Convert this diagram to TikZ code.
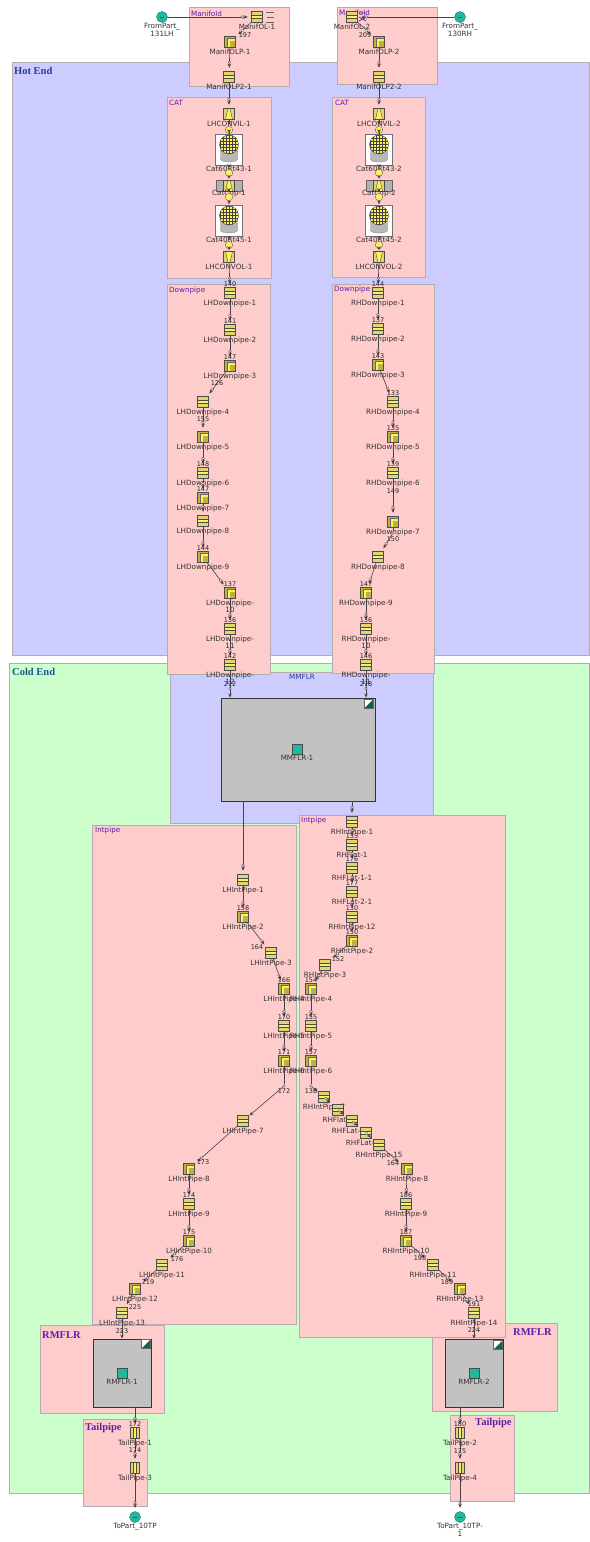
\documentclass[tikz,border=0pt]{standalone}
\usepackage{xcolor}
\usepackage{fontspec}
\setmainfont{DejaVu Sans}
\newfontfamily\zonefont{Liberation Serif}
\usetikzlibrary{arrows.meta,decorations.markings,positioning}
\definecolor{hotfill}{HTML}{CCCCFF}
\definecolor{coldfill}{HTML}{CCFFCC}
\definecolor{groupfill}{HTML}{FFCCCC}
\definecolor{edgegrey}{HTML}{B4ACB0}
\definecolor{iconyellow}{HTML}{E0D478}
\definecolor{bendyellow}{HTML}{C0B040}
\definecolor{bandyellow}{HTML}{FFF060}
\definecolor{portteal}{HTML}{20B8A0}
\definecolor{titlepurple}{HTML}{5A20A8}
\definecolor{titleblue}{HTML}{2A3A9C}
\definecolor{linegrey}{HTML}{4A4048}
\tikzset{
  zone/.style={draw=edgegrey,line width=0.8pt},
  smalltitle/.style={font=\fontsize{7.2}{8}\selectfont,text=titlepurple,inner sep=0pt},
  bigtitle/.style={font=\zonefont\bfseries\fontsize{10.5}{12}\selectfont,text=titlepurple,inner sep=0pt},
  parttext/.style={font=\fontsize{7.2}{7.5}\selectfont,text=black!80,inner sep=0pt,align=center},
  numtext/.style={font=\fontsize{6.5}{7}\selectfont,text=black!85,inner sep=0pt},
  partbox/.style={rectangle,draw=black!70,line width=0.5pt,inner sep=0pt,minimum width=11pt,minimum height=11pt},
  pipebox/.style={partbox,fill=iconyellow,path picture={
    \begin{scope}[shift={(path picture bounding box.center)}]
      \fill[bandyellow] (-5.5,-1.5) rectangle (5.5,1.5);
      \draw[black!70,line width=0.4pt] (-5.5,-1.5)--(5.5,-1.5) (-5.5,1.5)--(5.5,1.5);
    \end{scope}}},
  bendbox/.style={partbox,fill=bendyellow,path picture={
    \begin{scope}[shift={(path picture bounding box.center)}]
      \draw[bandyellow,line width=1.2pt] (5.5,-2)--(-1,-2)--(-1,5.5);
      \draw[black!60,line width=0.3pt] (5.5,-3.5)--(-3,-3.5)--(-3,5.5);
    \end{scope}}},
  tailbox/.style={partbox,minimum width=9pt,fill=iconyellow,path picture={
    \begin{scope}[shift={(path picture bounding box.center)}]
      \fill[bandyellow] (-1.5,-5.5) rectangle (1.5,5.5);
      \draw[black!70,line width=0.4pt] (-1.5,-5.5)--(-1.5,5.5) (1.5,-5.5)--(1.5,5.5);
    \end{scope}}},
  coneinbox/.style={partbox,fill=iconyellow,path picture={
    \begin{scope}[shift={(path picture bounding box.center)}]
      \draw[black!70,fill=bandyellow,line width=0.4pt] (-3.5,5.5)--(-1,-5.5)--(1,-5.5)--(3.5,5.5);
    \end{scope}}},
  coneoutbox/.style={partbox,fill=iconyellow,path picture={
    \begin{scope}[shift={(path picture bounding box.center)}]
      \draw[black!70,fill=bandyellow,line width=0.4pt] (-3.5,-5.5)--(-1,5.5)--(1,5.5)--(3.5,-5.5);
    \end{scope}}},
  catbox/.style={rectangle,draw=black!55,fill=white,line width=0.4pt,inner sep=0pt,minimum width=27pt,minimum height=31pt},
  capbox/.style={rectangle,draw=black!60,fill=black!30,line width=0.4pt,inner sep=0pt,minimum width=26pt,minimum height=11pt},
  capdot/.style={circle,draw=black!60,fill=bandyellow,line width=0.4pt,inner sep=0pt,minimum size=7.5pt},
  flrbox/.style={rectangle,draw=black!80,fill=black!24,line width=0.9pt,inner sep=0pt},
  flricon/.style={rectangle,draw=black!70,fill=portteal,line width=0.5pt,inner sep=0pt,minimum size=10pt},
  cornericon/.style={rectangle,draw=black!60,fill=white,line width=0.4pt,inner sep=0pt,minimum size=9pt,path picture={
    \fill[black!25!portteal!70!black] (path picture bounding box.south west) -- (path picture bounding box.north east) -- (path picture bounding box.south east) -- cycle;}},
  portdot/.style={circle,draw=portteal!70!black,fill=portteal,line width=0.4pt,inner sep=0pt,minimum size=11pt},
  opendot/.style={circle,draw=linegrey,fill=white,line width=0.35pt,inner sep=0pt,minimum size=2.8pt},
  pipeline/.style={draw=linegrey,line width=0.6pt,shorten >=3.5pt,-{Stealth[length=4pt,width=3.5pt]},
    decoration={markings,mark=at position -9pt with {\draw[linegrey,fill=white,line width=0.35pt] (0,0) circle (1.3pt);}},
    postaction={decorate}},
  plainline/.style={draw=linegrey,line width=0.6pt,shorten >=1pt,-{Stealth[length=4pt,width=3.5pt]}}
}
\begin{document}
\begin{tikzpicture}[x=1pt,y=-1pt]
  \useasboundingbox (0,0) rectangle (589,1542);
  \fill[white] (0,0) rectangle (589,1542);
  \draw[zone,fill=hotfill] (12,62) rectangle (589,655);
  \draw[zone,fill=coldfill] (9,663) rectangle (589,1493);
  \draw[zone,fill=hotfill] (170,672) rectangle (433,823);
  \foreach \xa/\ya/\xb/\yb in {189/7/289/86,337/7/437/84,167/97/271/278,332/97/425/277,
    167/284/270/674,332/284/434/673,40/1325/164/1413,432/1323/557/1411,
    92/825/296/1324,299/815/505/1337,83/1419/147/1506,450/1415/514/1501}
    \draw[zone,fill=groupfill] (\xa,\ya) rectangle (\xb,\yb);
  \node[bigtitle,text=titleblue,anchor=west] (HotTitle) at (14,71) {Hot End};
  \node[bigtitle,text=titleblue!60!teal,anchor=west] (ColdTitle) at (12,672) {Cold End};
  \node[bigtitle,anchor=west] (RmflrTitleL) at (42,1335) {RMFLR};
  \node[bigtitle,anchor=west] (RmflrTitleR) at (513,1332) {RMFLR};
  \node[bigtitle,anchor=west] (TailTitleL) at (85,1428) {Tailpipe};
  \node[bigtitle,anchor=west] (TailTitleR) at (475,1423) {Tailpipe};
  \foreach \name/\x/\y/\txt in {ManTitleL/191/14/Manifold,ManTitleR/339/13/Manifold,
    CatTitleL/169/103/CAT,CatTitleR/335/103/CAT,DownTitleL/169/291/Downpipe,DownTitleR/334/290/Downpipe,
    IntTitleL/95/831/Intpipe,IntTitleR/301/821/Intpipe}
    \node[smalltitle,anchor=west] (\name) at (\x,\y) {\txt};
  \node[smalltitle,text=titleblue] (MmflrTitle) at (302,677) {MMFLR};
  \foreach \name/\x/\y/\kind/\txt in {
    ManOLA/257/17/pipebox/ManifOL-1,ManLPA/230/42/bendbox/ManifOLP-1,ManLTA/229/77/pipebox/ManifOLP2-1,
    ManOLB/352/17/pipebox/ManifOL-2,ManLPB/379/42/bendbox/ManifOLP-2,ManLTB/379/77/pipebox/ManifOLP2-2,
    ConvInA/229/114/coneinbox/LHCONVIL-1,ConvOutA/229/257/coneoutbox/LHCONVOL-1,
    ConvInB/379/114/coneinbox/LHCONVIL-2,ConvOutB/379/257/coneoutbox/LHCONVOL-2,
    LHDownA/230/293/pipebox/LHDownpipe-1,LHDownB/230/330/pipebox/LHDownpipe-2,LHDownC/230/366/bendbox/LHDownpipe-3,
    LHDownD/203/402/pipebox/LHDownpipe-4,LHDownE/203/437/bendbox/LHDownpipe-5,LHDownF/203/473/pipebox/LHDownpipe-6,
    LHDownG/203/498/bendbox/LHDownpipe-7,LHDownH/203/521/pipebox/LHDownpipe-8,LHDownI/203/557/bendbox/LHDownpipe-9,
    LHDownJ/230/593/bendbox/{LHDownpipe-\\10},LHDownK/230/629/pipebox/{LHDownpipe-\\11},LHDownL/230/665/pipebox/{LHDownpipe-\\12},
    RHDownA/378/293/pipebox/RHDownpipe-1,RHDownB/378/329/pipebox/RHDownpipe-2,RHDownC/378/365/bendbox/RHDownpipe-3,
    RHDownD/393/402/pipebox/RHDownpipe-4,RHDownE/393/437/bendbox/RHDownpipe-5,RHDownF/393/473/pipebox/RHDownpipe-6,
    RHDownG/393/522/bendbox/RHDownpipe-7,RHDownH/378/557/pipebox/RHDownpipe-8,RHDownI/366/593/bendbox/RHDownpipe-9,
    RHDownJ/366/629/pipebox/{RHDownpipe-\\10},RHDownK/366/665/pipebox/{RHDownpipe-\\11},
    LHIntA/243/880/pipebox/LHIntPipe-1,LHIntB/243/917/bendbox/LHIntPipe-2,LHIntC/271/953/pipebox/LHIntPipe-3,
    LHIntD/284/989/bendbox/LHIntPipe-4,LHIntE/284/1026/pipebox/LHIntPipe-5,LHIntF/284/1061/bendbox/LHIntPipe-6,
    LHIntG/243/1121/pipebox/LHIntPipe-7,LHIntH/189/1169/bendbox/LHIntPipe-8,LHIntI/189/1204/pipebox/LHIntPipe-9,
    LHIntJ/189/1241/bendbox/LHIntPipe-10,LHIntK/162/1265/pipebox/LHIntPipe-11,LHIntL/135/1289/bendbox/LHIntPipe-12,
    LHIntM/122/1313/pipebox/LHIntPipe-13,
    RHIntA/352/822/pipebox/RHIntPipe-1,RHFlatA/352/845/pipebox/RHFlat-1,RHFlatB/352/868/pipebox/RHFLat-1-1,
    RHFlatC/352/892/pipebox/RHFLat-2-1,RHIntL/352/917/pipebox/RHIntPipe-12,RHIntB/352/941/bendbox/RHIntPipe-2,
    RHIntC/325/965/pipebox/RHIntPipe-3,RHIntD/311/989/bendbox/RHIntPipe-4,RHIntE/311/1026/pipebox/RHIntPipe-5,
    RHIntF/311/1061/bendbox/RHIntPipe-6,RHIntG/324/1097/pipebox/RHIntPipe-7,RHFlatD/338/1110/pipebox/RHFlat-3,
    RHFlatE/352/1121/pipebox/RHFLat-3-1,RHFlatF/366/1133/pipebox/RHFLat-4-1,RHIntO/379/1145/pipebox/RHIntPipe-15,
    RHIntH/407/1169/bendbox/RHIntPipe-8,RHIntI/406/1204/pipebox/RHIntPipe-9,RHIntJ/406/1241/bendbox/RHIntPipe-10,
    RHIntK/433/1265/pipebox/RHIntPipe-11,RHIntM/460/1289/bendbox/RHIntPipe-13,RHIntN/474/1313/pipebox/RHIntPipe-14,
    TailA/135/1433/tailbox/TailPipe-1,TailC/135/1468/tailbox/TailPipe-3,
    TailB/460/1433/tailbox/TailPipe-2,TailD/460/1468/tailbox/TailPipe-4}
  {
    \node[\kind] (\name) at (\x,\y) {};
    \node[parttext,below=0.8pt of \name] (\name-text) {\txt};
  }
  \foreach \name/\x/\y/\txt in {CatFrontA/229/150/Cat60Rt43-1,CatBackA/229/221/Cat40Rt45-1,
    CatFrontB/379/150/Cat60Rt43-2,CatBackB/379/221/Cat40Rt45-2}
  {
    \node[catbox] (\name) at (\x,\y) {};
    \begin{scope}[shift={(\name.center)}]
      \draw[black!50,fill=black!28,line width=0.3pt] (-8.5,-4) -- (-8.5,9) .. controls (-8.5,13) and (8.5,13) .. (8.5,9) -- (8.5,-4) -- cycle;
      \begin{scope}
        \clip (0,-5.5) circle (9.5);
        \fill[bandyellow] (-10,-16) rectangle (10,5);
        \foreach \g in {-9,-6,-3,0,3,6,9} \draw[black!75,line width=0.4pt] (\g,-16) -- (\g,5) (-10,\g-5.5) -- (10,\g-5.5);
      \end{scope}
      \draw[black!70,line width=0.4pt] (0,-5.5) circle (9.5);
    \end{scope}
    \node[parttext,below=0pt of \name] (\name-text) {\txt};
  }
  \foreach \name/\x/\txt in {CapA/229/CatCnp-1,CapB/379/CatCnp-2}
  {
    \node[capbox] (\name) at (\x,185.5) {};
    \node[coneinbox] (\name-core) at (\name.center) {};
    \node[parttext,below=-1pt of \name] (\name-text) {\txt};
  }
  \foreach \name/\x/\y in {DotAa/229/130,DotAb/229/173,DotAc/229/197,DotAd/229/245,
    DotBa/379/130,DotBb/379/173,DotBc/379/197,DotBd/379/245}
    \node[capdot] (\name) at (\x,\y) {};
  \draw[black!60,line width=0.6pt] (266,12)--(274,12) (267,17)--(274,17) (266,22)--(274,22);
  \draw[titlepurple,line width=0.7pt] (359,13)--(366,13) (359,17)--(366,21) (359,21)--(366,17);
  \node[flrbox,minimum width=154pt,minimum height=103pt] (MmflrBox) at (298,749.5) {};
  \node[flricon] (MmflrIcon) at (297,749) {};
  \node[parttext,below=1pt of MmflrIcon] (MmflrText) {MMFLR-1};
  \node[cornericon] (MmflrCorner) at (368.5,704) {};
  \node[flrbox,minimum width=58pt,minimum height=68pt] (RmflrBoxL) at (122,1373) {};
  \node[flricon] (RmflrIconL) at (122,1373) {};
  \node[parttext,below=1pt of RmflrIconL] (RmflrTextL) {RMFLR-1};
  \node[cornericon] (RmflrCornerL) at (146,1344) {};
  \node[flrbox,minimum width=58pt,minimum height=68pt] (RmflrBoxR) at (474.5,1373) {};
  \node[flricon] (RmflrIconR) at (474,1373) {};
  \node[parttext,below=1pt of RmflrIconR] (RmflrTextR) {RMFLR-2};
  \node[cornericon] (RmflrCornerR) at (498,1345) {};
  \foreach \name/\x/\y/\txt in {FromLH/162/17/{FromPart\_\\131LH},FromRH/460/17/{FromPart\_\\130RH},
    ToLH/135/1517/ToPart\_10TP,ToRH/460/1517/{ToPart\_10TP-\\1}}
  {
    \node[portdot] (\name) at (\x,\y) {};
    \draw[black!70,line width=0.4pt] (\x-2,\y) -- (\x+2,\y);
    \node[parttext,below=0.5pt of \name] (\name-text) {\txt};
  }
  \node[opendot] (PortLH) at (284,1086) {};
  \node[opendot] (PortRH) at (311,1086) {};
  \node[opendot] (PortGH) at (393,533) {};
  \foreach \a/\b in {ManOLA/ManLPA,ManLPA/ManLTA,ManLTA/ConvInA,ManOLB/ManLPB,ManLPB/ManLTB,ManLTB/ConvInB,
    ConvOutA/LHDownA,LHDownA/LHDownB,LHDownB/LHDownC,LHDownC/LHDownD,LHDownD/LHDownE,LHDownE/LHDownF,LHDownF/LHDownG,
    LHDownG/LHDownH,LHDownH/LHDownI,LHDownI/LHDownJ,LHDownJ/LHDownK,LHDownK/LHDownL,
    ConvOutB/RHDownA,RHDownA/RHDownB,RHDownB/RHDownC,RHDownC/RHDownD,RHDownD/RHDownE,RHDownE/RHDownF,RHDownF/RHDownG,
    PortGH/RHDownH,RHDownH/RHDownI,RHDownI/RHDownJ,RHDownJ/RHDownK,
    LHIntA/LHIntB,LHIntB/LHIntC,LHIntC/LHIntD,LHIntD/LHIntE,LHIntE/LHIntF,LHIntG/LHIntH,LHIntH/LHIntI,
    LHIntI/LHIntJ,LHIntJ/LHIntK,LHIntK/LHIntL,LHIntL/LHIntM,
    RHIntA/RHFlatA,RHFlatA/RHFlatB,RHFlatB/RHFlatC,RHFlatC/RHIntL,RHIntL/RHIntB,RHIntB/RHIntC,RHIntC/RHIntD,RHIntD/RHIntE,
    RHIntE/RHIntF,RHFlatD/RHFlatE,RHFlatE/RHFlatF,RHFlatF/RHIntO,RHIntO/RHIntH,RHIntH/RHIntI,
    RHIntG/RHFlatD,RHIntI/RHIntJ,RHIntJ/RHIntK,RHIntK/RHIntM,RHIntM/RHIntN,
    TailA/TailC,TailB/TailD,TailC/ToLH,TailD/ToRH}
    \draw[pipeline] (\a) -- (\b);
  \foreach \a/\b in {ConvInA/DotAa,DotAa/CatFrontA,CatFrontA/DotAb,DotAb/CapA,CapA/DotAc,DotAc/CatBackA,CatBackA/DotAd,DotAd/ConvOutA,
    ConvInB/DotBa,DotBa/CatFrontB,CatFrontB/DotBb,DotBb/CapB,CapB/DotBc,DotBc/CatBackB,CatBackB/DotBd,DotBd/ConvOutB,
    PortLH/LHIntG,PortRH/RHIntG}
    \draw[plainline] (\a) -- (\b);
  \draw[draw=linegrey,line width=0.6pt] (LHIntF) -- (PortLH);
  \draw[draw=linegrey,line width=0.6pt] (RHIntF) -- (PortRH);
  \draw[draw=linegrey,line width=0.6pt] (RHDownG) -- (PortGH);
  \draw[pipeline] (FromLH) -- (ManOLA);
  \draw[pipeline] (FromRH) -- (ManOLB);
  \draw[pipeline,shorten >=0pt] (LHDownL) -- (LHDownL |- MmflrBox.north);
  \draw[pipeline,shorten >=0pt] (RHDownK) -- (RHDownK |- MmflrBox.north);
  \draw[pipeline] (MmflrBox.south -| LHIntA) -- (LHIntA);
  \draw[pipeline] (MmflrBox.south -| RHIntA) -- (RHIntA);
  \draw[pipeline,shorten >=0pt] (LHIntM) -- (LHIntM |- RmflrBoxL.north);
  \draw[pipeline,shorten >=0pt] (RHIntN) -- (RHIntN |- RmflrBoxR.north);
  \draw[pipeline] (RmflrBoxL.south -| TailA) -- (TailA);
  \draw[pipeline] (RmflrBoxR.south -| TailB) -- (TailB);
  \foreach \name/\x/\y/\txt in {NumA/245/35/197,NumB/365/35/209,NumC/217/383/126,NumD/203/419/155,NumE/230/684/272,
    NumF/393/491/149,NumG/393/539/150,NumH/366/684/278,NumI/257/947/164,NumJ/338/959/152,NumK/284/1091/172,NumL/311/1091/138,
    NumM/203/1162/173,NumN/177/1259/176,NumO/148/1282/219,NumP/135/1307/225,NumQ/122/1331/223,NumR/393/1163/164,
    NumS/420/1258/198,NumT/447/1282/189,NumU/474/1330/224,NumV/135/1450/174,NumW/460/1451/175}
    \node[numtext] (\name) at (\x,\y) {\txt};
  \foreach \name/\txt in {LHDownA/140,LHDownB/141,LHDownC/147,LHDownF/148,LHDownG/147,LHDownI/144,LHDownJ/137,LHDownK/136,LHDownL/142,
    RHDownA/144,RHDownB/137,RHDownC/143,RHDownD/133,RHDownE/135,RHDownF/139,RHDownI/147,RHDownJ/136,RHDownK/146,
    LHIntB/158,LHIntD/166,LHIntE/170,LHIntF/171,LHIntI/174,LHIntJ/175,RHFlatA/135,RHFlatB/176,RHFlatC/177,RHIntL/130,RHIntB/150,
    RHIntD/154,RHIntE/155,RHIntF/157,RHIntI/186,RHIntJ/187,RHIntN/191,TailA/172,TailB/180}
    \node[numtext,above=0.5pt of \name] (\name-num) {\txt};
\end{tikzpicture}
\end{document}
